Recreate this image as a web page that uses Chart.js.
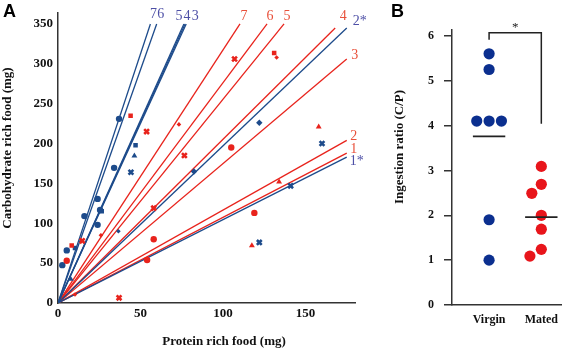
<!DOCTYPE html>
<html>
<head>
<meta charset="utf-8">
<script src="https://cdn.jsdelivr.net/npm/chart.js@4.4.1/dist/chart.umd.min.js"></script>
<style>
  body { margin: 0; background: #fff; }
  #wrap { position: relative; width: 567px; height: 349px; }
  canvas { position: absolute; top: 0; }
  #chartA { left: 0; }
  #chartB { left: 380px; }
</style>
</head>
<body>
<div id="wrap">
  <canvas id="chartA" width="375" height="349"></canvas>
  <canvas id="chartB" width="187" height="349"></canvas>
</div>
<script>
//// Panel A data: protein (x) vs carbohydrate (y), mg
const aTicksX = [0, 50, 100, 150];
const aTicksY = [0, 50, 100, 150, 200, 250, 300, 350];

// each point: protein, carbohydrate, fly number (sets the marker)
const virginProtein = [37, 47, 46.3, 34, 44.2, 82.4, 122, 160, 16, 24, 25.5, 26.5, 24, 10.3, 5.3, 2.6, 7.7, 36.6, 141, 122];
const virginCarb    = [231, 198, 184.6, 169.5, 164, 165, 226, 200, 109, 130.6, 116.7, 115, 98, 69, 66, 47.5, 30, 90, 147, 76];
const virginFly     = [1, 2, 3, 1, 5, 4, 4, 5, 1, 1, 1, 2, 1, 2, 1, 1, 3, 6, 5, 5];

const matedProtein = [44, 53.7, 73.3, 76.6, 107, 131, 132.5, 158, 105, 8.3, 14.7, 5.3, 10.3, 26, 58, 58, 54, 37, 134, 119, 117.5];
const matedCarb    = [235, 215, 224, 185, 306, 313.6, 308, 221, 195, 72, 78, 53, 10.7, 85, 119, 80, 54, 6.5, 152, 113, 72];
const matedFly     = [2, 5, 6, 5, 5, 2, 6, 3, 1, 2, 5, 1, 6, 6, 5, 1, 1, 5, 3, 1, 3];

// regression lines through the origin, given by their end point
const virginLineIds  = ["1*", "2*", "3", "4", "5", "6", "7"];
const virginLineEndP = [175, 175, 77.7, 77, 76.3, 59.8, 56];
const virginLineEndC = [183, 345, 350, 350, 350, 350, 350];

const matedLineIds  = ["1", "2", "3", "4", "5", "6", "7"];
const matedLineEndP = [175, 175, 175, 168, 137, 126.7, 110.3];
const matedLineEndC = [188, 204, 306, 345, 350, 350, 350];

//// Panel B data: ingestion ratio C/P
const groups = ["Virgin", "Mated"];
const bTicksY = [0, 1, 2, 3, 4, 5, 6];
const virginRatio = [5.6, 5.25, 4.1, 4.1, 4.1, 1.9, 1.0];
const matedRatio  = [3.09, 2.69, 2.49, 2.0, 1.69, 1.24, 1.09];
const groupMean   = [3.76, 1.96];

//// styles
const BLUE = "#1d4b8b";
const RED = "#e8231c";
const BLUE_TXT = "#4d4fa6";
const RED_TXT = "#e8503a";
const SERIF = "'Liberation Serif', 'DejaVu Serif', serif";
const markStyle = { 1: "circle", 2: "rect", 3: "triangle", 4: "rectRot", 5: "crossRot", 6: "rectRot" };
const markRadius = { 1: 3.2, 2: 3.2, 3: 3.4, 4: 3.2, 5: 3.4, 6: 2.3 };

function pointsOf(xs, ys) {
  return xs.map((v, i) => ({ x: v, y: ys[i] }));
}

function scatterSet(xs, ys, fly, color) {
  return {
    data: pointsOf(xs, ys),
    backgroundColor: color,
    borderColor: color,
    pointStyle: (c) => markStyle[fly[c.dataIndex]],
    pointRadius: (c) => markRadius[fly[c.dataIndex]],
    pointBorderWidth: (c) => (fly[c.dataIndex] === 5 ? 2.6 : 0),
    showLine: false,
  };
}

function lineSet(endP, endC, i, color) {
  return {
    data: [{ x: 0, y: 0 }, { x: endP[i], y: endC[i] }],
    borderColor: color,
    borderWidth: 1.3,
    pointRadius: 0,
    showLine: true,
  };
}

const lineDatasets = [];
virginLineIds.forEach((id, i) => lineDatasets.push(lineSet(virginLineEndP, virginLineEndC, i, BLUE)));
matedLineIds.forEach((id, i) => lineDatasets.push(lineSet(matedLineEndP, matedLineEndC, i, RED)));

// where each line number sits relative to the end of its line (px)
const labelOffset = {
  "v7": [3, -10], "v6": [4, -10], "v5": [-5, -8], "v4": [2, -8], "v3": [9, -8],
  "v2*": [13, -7], "v1*": [10, 4],
  "m7": [4, -8], "m6": [3, -8], "m5": [3, -8], "m4": [8, -12],
  "m3": [8, -4], "m2": [7, -4], "m1": [7, -4],
};

const panelAText = {
  id: "panelAText",
  afterDraw(chart) {
    const { ctx, scales: { x, y } } = chart;
    ctx.save();
    ctx.textAlign = "center";
    ctx.textBaseline = "middle";
    ctx.font = "14px " + SERIF;
    const drawLabels = (ids, endP, endC, key, color) => {
      ids.forEach((id, i) => {
        const off = labelOffset[key + id];
        ctx.fillStyle = color;
        ctx.fillText(id, x.getPixelForValue(endP[i]) + off[0], y.getPixelForValue(endC[i]) + off[1]);
      });
    };
    drawLabels(virginLineIds, virginLineEndP, virginLineEndC, "v", BLUE_TXT);
    drawLabels(matedLineIds, matedLineEndP, matedLineEndC, "m", RED_TXT);

    ctx.fillStyle = "#111";
    ctx.font = "bold 13px " + SERIF;
    ctx.fillText("Protein rich food (mg)", 224, 342);
    ctx.translate(8, 148);
    ctx.rotate(-Math.PI / 2);
    ctx.fillText("Carbohydrate rich food (mg)", 0, 0);
    ctx.restore();

    ctx.save();
    ctx.fillStyle = "#000";
    ctx.font = "bold 18px 'Liberation Sans', Arial, sans-serif";
    ctx.textBaseline = "top";
    ctx.fillText("A", 3, 3);
    ctx.restore();
  },
};

new Chart(document.getElementById("chartA"), {
  type: "scatter",
  data: {
    datasets: [
      scatterSet(matedProtein, matedCarb, matedFly, RED),
      scatterSet(virginProtein, virginCarb, virginFly, BLUE),
      ...lineDatasets,
    ],
  },
  options: {
    responsive: false,
    animation: false,
    devicePixelRatio: 1,
    layout: { padding: { top: 7, right: 20, left: 0, bottom: 0 } },
    plugins: { legend: { display: false }, tooltip: { enabled: false } },
    scales: {
      x: {
        type: "linear",
        min: 0,
        max: 180,
        grid: { display: false, drawTicks: false },
        border: { color: "#333", width: 1.5 },
        ticks: { font: { family: SERIF, size: 13, weight: "bold" }, color: "#111", padding: 3, maxRotation: 0 },
        afterBuildTicks: (s) => { s.ticks = aTicksX.map((v) => ({ value: v })); },
        afterFit: (s) => { s.height = 46; },
      },
      y: {
        type: "linear",
        min: 0,
        max: 364,
        grid: { display: false, drawTicks: false },
        border: { color: "#333", width: 1.5 },
        ticks: { font: { family: SERIF, size: 13, weight: "bold" }, color: "#111", padding: 5 },
        afterBuildTicks: (s) => { s.ticks = aTicksY.map((v) => ({ value: v })); },
        afterFit: (s) => { s.width = 58; },
      },
    },
  },
  plugins: [panelAText],
});

//// Panel B: dots spread sideways where they would overlap
const PX_PER_X = 55;
const PX_PER_Y = 45;
const DOT = 13;

function swarm(values, center) {
  const placed = [];
  return values.map((v) => {
    let dx = 0;
    for (let k = 0; k <= 40; k++) {
      const cands = k === 0 ? [0] : [-k, k];
      const ok = cands.find((c) => placed.every((p) => Math.hypot(c - p.dx, (v - p.v) * PX_PER_Y) >= DOT));
      if (ok !== undefined) { dx = ok; break; }
    }
    placed.push({ v, dx });
    return { x: center + dx / PX_PER_X, y: v };
  });
}

const meanLine = (i) => ({
  data: [{ x: i + 1 - 0.31, y: groupMean[i] }, { x: i + 1 + 0.31, y: groupMean[i] }],
  borderColor: "#222",
  borderWidth: 1.8,
  pointRadius: 0,
  showLine: true,
});

const panelBText = {
  id: "panelBText",
  afterDraw(chart) {
    const { ctx, scales: { x, y } } = chart;
    ctx.save();
    // significance bracket
    const x1 = x.getPixelForValue(1), x2 = x.getPixelForValue(2);
    const top = y.getPixelForValue(6.07);
    ctx.strokeStyle = "#222";
    ctx.lineWidth = 1.5;
    ctx.beginPath();
    ctx.moveTo(x1, y.getPixelForValue(5.91));
    ctx.lineTo(x1, top);
    ctx.lineTo(x2, top);
    ctx.lineTo(x2, y.getPixelForValue(4.04));
    ctx.stroke();
    ctx.fillStyle = "#222";
    ctx.textAlign = "center";
    ctx.textBaseline = "middle";
    ctx.font = "13px " + SERIF;
    ctx.fillText("*", (x1 + x2) / 2, top - 5);

    ctx.fillStyle = "#111";
    ctx.font = "bold 13px " + SERIF;
    ctx.translate(20, 147);
    ctx.rotate(-Math.PI / 2);
    ctx.fillText("Ingestion ratio (C/P)", 0, 0);
    ctx.restore();

    ctx.save();
    ctx.fillStyle = "#000";
    ctx.font = "bold 18px 'Liberation Sans', Arial, sans-serif";
    ctx.textBaseline = "top";
    ctx.fillText("B", 11, 3);
    ctx.restore();
  },
};

new Chart(document.getElementById("chartB"), {
  type: "scatter",
  data: {
    datasets: [
      meanLine(0),
      meanLine(1),
      { data: swarm(virginRatio, 1), backgroundColor: "#0b2f8f", pointRadius: 5.6, pointBorderWidth: 0 },
      { data: swarm(matedRatio, 2), backgroundColor: "#e8151b", pointRadius: 5.6, pointBorderWidth: 0 },
    ],
  },
  options: {
    responsive: false,
    animation: false,
    devicePixelRatio: 1,
    layout: { padding: { top: 30, right: 0, left: 0, bottom: 0 } },
    plugins: { legend: { display: false }, tooltip: { enabled: false } },
    scales: {
      x: {
        type: "linear",
        min: 0.29,
        max: 2.38,
        grid: { display: false, drawTicks: false },
        border: { color: "#333", width: 1.5 },
        ticks: {
          font: { family: SERIF, size: 12, weight: "bold" },
          color: "#111",
          padding: 8,
          callback: (v) => groups[v - 1],
        },
        afterBuildTicks: (s) => { s.ticks = groups.map((g, i) => ({ value: i + 1 })); },
        afterFit: (s) => { s.height = 44; },
      },
      y: {
        type: "linear",
        min: 0,
        max: 6.13,
        grid: { drawOnChartArea: false, drawTicks: true, tickLength: 8, color: "#333", lineWidth: 1.5 },
        border: { color: "#333", width: 1.5 },
        ticks: { font: { family: SERIF, size: 12, weight: "bold" }, color: "#111", padding: 10 },
        afterBuildTicks: (s) => { s.ticks = bTicksY.map((v) => ({ value: v })); },
        afterFit: (s) => { s.width = 72; },
      },
    },
  },
  plugins: [panelBText],
});
</script>
</body>
</html>
